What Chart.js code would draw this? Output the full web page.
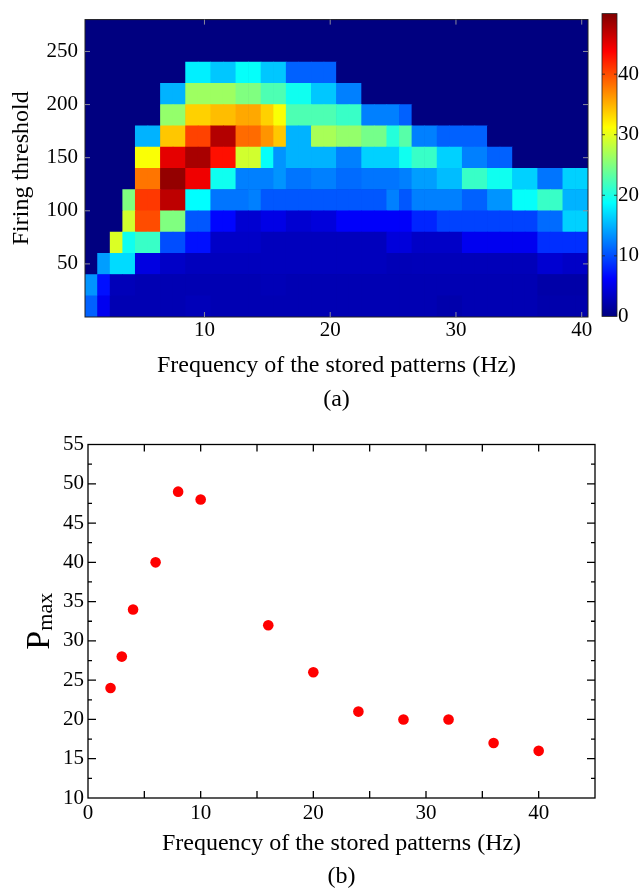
<!DOCTYPE html>
<html>
<head>
<meta charset="utf-8">
<script src="https://cdn.jsdelivr.net/npm/chart.js@4.4.0/dist/chart.umd.min.js"></script>
<style>
  html, body { margin: 0; padding: 0; background: #fff; overflow: hidden; }
  body { width: 640px; height: 891px; position: relative; }
  canvas { position: absolute; }
  #heat { left: 0; top: 0; }
  #cbar { left: 590px; top: 0; }
  #scat { left: 0; top: 420px; }
</style>
</head>
<body>
<canvas id="heat" width="600" height="420"></canvas>
<canvas id="cbar" width="50" height="330"></canvas>
<canvas id="scat" width="640" height="480"></canvas>
<script>
Chart.defaults.font.family = "'Liberation Serif', 'Times New Roman', serif";
Chart.defaults.color = '#000';
Chart.defaults.animation = false;

// (a) heat map: stored pattern frequency (Hz) x firing threshold
const freqs = [1, 2, 3, 4, 5, 6, 7, 8, 9, 10, 11, 12, 13, 14, 15, 16, 17, 18, 19, 20,
               21, 22, 23, 24, 25, 26, 27, 28, 29, 30, 31, 32, 33, 34, 35, 36, 37, 38, 39, 40];
const thresholdEdges = [0, 20, 40, 60, 80, 100, 120, 140, 160, 180, 200, 220, 240, 260, 280];
// one row per threshold bin, bottom row first
const pGrid = [
  [11, 5.5, 2.5, 2.5, 2.5, 2.5, 2.5, 2.5, 2.8, 2.8, 2.5, 2.5, 2.5, 2.5, 2.5, 2.5, 2.5, 2.5, 2.5, 2.5,
   2.5, 2.5, 2.5, 2.5, 2.5, 2.5, 2.5, 2.5, 2.2, 2.2, 2.5, 2.5, 2.5, 2.5, 2.5, 2.5, 2.2, 2.2, 2.2, 2.2],
  [13.5, 7, 2.8, 2.8, 2.5, 2.5, 2.5, 2.5, 2.5, 2.5, 2.5, 2.5, 2.5, 2.5, 2.7, 2.7, 2.5, 2.5, 2.5, 2.5,
   2.5, 2.5, 2.5, 2.5, 2.5, 2.5, 2.5, 2.5, 2.5, 2.5, 2.5, 2.5, 2.5, 2.5, 2.5, 2.5, 2, 2, 2, 2],
  [0, 14, 17, 17, 4.8, 4.8, 3.5, 3.5, 3, 3, 3, 3, 3, 3, 3, 3, 3, 3, 3, 3,
   3, 3, 3, 3, 2.7, 2.7, 2.8, 2.8, 2.8, 2.8, 2.8, 2.8, 2.8, 2.8, 2.8, 2.8, 4, 4, 3.5, 3.5],
  [0, 0, 29.5, 19.5, 21.5, 21.5, 10, 10, 7, 7, 3.5, 3.5, 3.5, 3.5, 3, 3, 3, 3, 3, 3,
   3, 3, 3, 3, 4.5, 4.5, 3.5, 3.5, 3.5, 3.5, 5.5, 5.5, 5.5, 5.5, 5.5, 5.5, 8.5, 8.5, 8.5, 8.5],
  [0, 0, 0, 29, 40, 40, 25, 25, 10.5, 10.5, 6.5, 6.5, 4, 4, 5, 5, 4, 4, 4.5, 4.5,
   6, 6, 6, 6, 6, 6, 8, 8, 9.5, 9.5, 9.5, 9.5, 9.5, 9.5, 9.5, 9.5, 11.5, 11.5, 16.5, 16.5],
  [0, 0, 0, 25, 41, 41, 47, 47, 18.75, 18.75, 12, 12, 12, 12.5, 10.5, 10.5, 10.5, 10.5, 10.5, 10.5,
   10.5, 10.5, 10.5, 10.5, 12.5, 10.5, 12.5, 12.5, 12.5, 12.5, 11, 11, 13.5, 13.5, 19, 19, 21.5, 21.5, 15, 15],
  [0, 0, 0, 0, 38, 38, 49, 49, 44.5, 44.5, 19.5, 19.5, 12.5, 12.5, 12.5, 13.5, 12, 12, 12.5, 12.5,
   11.5, 11.5, 12, 12, 12, 12.5, 14, 14, 15.5, 15.5, 21.5, 21.5, 19.5, 19.5, 16.5, 16.5, 12, 12, 16.5, 16.5],
  [0, 0, 0, 0, 31, 31, 45, 45, 48, 48, 43, 43, 29, 29, 19, 13.5, 15, 15, 15, 15,
   12.5, 12.5, 16.5, 16.5, 16.5, 19.5, 21.5, 21.5, 16.5, 16.5, 12.5, 12.5, 11, 11, 0, 0, 0, 0, 0, 0],
  [0, 0, 0, 0, 15, 15, 34, 34, 40.5, 40.5, 47.5, 47.5, 38.5, 38.5, 36.5, 34, 15, 15, 27, 27,
   26, 26, 24.5, 24.5, 20.5, 23, 12.5, 12.5, 11, 11, 11, 11, 0, 0, 0, 0, 0, 0, 0, 0],
  [0, 0, 0, 0, 0, 0, 26, 26, 33.5, 33.5, 34.5, 34.5, 35.5, 35.5, 33.5, 31, 22.5, 22.5, 22.5, 22.5,
   21.5, 21.5, 12.5, 12.5, 12.5, 11, 0, 0, 0, 0, 0, 0, 0, 0, 0, 0, 0, 0, 0, 0],
  [0, 0, 0, 0, 0, 0, 15, 15, 26.5, 26.5, 26.5, 26.5, 25, 25, 22.5, 22.5, 19.5, 19.5, 16, 16,
   12.5, 12.5, 0, 0, 0, 0, 0, 0, 0, 0, 0, 0, 0, 0, 0, 0, 0, 0, 0, 0],
  [0, 0, 0, 0, 0, 0, 0, 0, 18, 18, 16, 16, 19, 19, 16, 16, 11, 11, 11, 11,
   0, 0, 0, 0, 0, 0, 0, 0, 0, 0, 0, 0, 0, 0, 0, 0, 0, 0, 0, 0],
  [0, 0, 0, 0, 0, 0, 0, 0, 0, 0, 0, 0, 0, 0, 0, 0, 0, 0, 0, 0,
   0, 0, 0, 0, 0, 0, 0, 0, 0, 0, 0, 0, 0, 0, 0, 0, 0, 0, 0, 0],
  [0, 0, 0, 0, 0, 0, 0, 0, 0, 0, 0, 0, 0, 0, 0, 0, 0, 0, 0, 0,
   0, 0, 0, 0, 0, 0, 0, 0, 0, 0, 0, 0, 0, 0, 0, 0, 0, 0, 0, 0]
];
const cMax = 50;
const heatXTicks = [10, 20, 30, 40];
const heatYTicks = [50, 100, 150, 200, 250];
const cbarTicks = [0, 10, 20, 30, 40];

// (b) maximum of P per frequency
const pmaxFreq = [2, 3, 4, 6, 8, 10, 16, 20, 24, 28, 32, 36, 40];
const pmaxValue = [24, 28, 34, 40, 49, 48, 32, 26, 21, 20, 20, 17, 16];
const pmaxXTicks = [0, 10, 20, 30, 40];
const pmaxYTicks = [10, 15, 20, 25, 30, 35, 40, 45, 50, 55];

function clamp01(v) { return Math.max(0, Math.min(1, v)); }
function jet(v) {
  const t = clamp01(v / cMax);
  const r = clamp01(1.5 - Math.abs(4 * t - 3));
  const g = clamp01(1.5 - Math.abs(4 * t - 2));
  const b = clamp01(1.5 - Math.abs(4 * t - 1));
  return 'rgb(' + Math.round(r * 255) + ',' + Math.round(g * 255) + ',' + Math.round(b * 255) + ')';
}
function jetGradient(c) {
  const a = c.chart.chartArea;
  if (!a) return jet(0);
  const g = c.chart.ctx.createLinearGradient(0, a.bottom, 0, a.top);
  for (let i = 0; i <= 16; i++) g.addColorStop(i / 16, jet(cMax * i / 16));
  return g;
}
function fixedTicks(list) {
  return s => { s.ticks = list.map(v => ({ value: v })); };
}

// box round the plot area plus inward tick marks
const framePlugin = {
  id: 'frame',
  beforeDatasetsDraw(chart, args, o) {
    if (!o.fill) return;
    const { ctx, chartArea: a } = chart;
    ctx.save();
    ctx.fillStyle = o.fill;
    ctx.fillRect(a.left, a.top, a.right - a.left, a.bottom - a.top);
    ctx.restore();
  },
  afterDatasetsDraw(chart, args, o) {
    const { ctx, chartArea: a, scales } = chart;
    ctx.save();
    ctx.strokeStyle = o.boxColor || o.color;
    ctx.lineWidth = o.width;
    ctx.strokeRect(a.left, a.top, a.right - a.left, a.bottom - a.top);
    ctx.strokeStyle = o.color;
    ctx.beginPath();
    (o.marks || []).forEach(m => {
      const s = scales[m.axis];
      const first = Math.ceil((s.min - 1e-9) / m.step) * m.step;
      for (let v = first; v <= s.max + 1e-9; v += m.step) {
        const p = s.getPixelForValue(v);
        if (s.isHorizontal()) {
          if (p <= a.left + 1 || p >= a.right - 1) continue;
          ctx.moveTo(p, a.bottom); ctx.lineTo(p, a.bottom - m.len);
          ctx.moveTo(p, a.top); ctx.lineTo(p, a.top + m.len);
        } else {
          if (p <= a.top + 1 || p >= a.bottom - 1) continue;
          ctx.moveTo(a.left, p); ctx.lineTo(a.left + m.len, p);
          ctx.moveTo(a.right, p); ctx.lineTo(a.right - m.len, p);
        }
      }
    });
    ctx.stroke();
    ctx.restore();
  }
};

// rotated "P" with subscript "max"
const pmaxTitle = {
  id: 'pmaxTitle',
  afterDraw(chart, args, o) {
    const { ctx, chartArea: a } = chart;
    const fam = "'Liberation Serif', serif";
    ctx.save();
    ctx.fillStyle = '#000';
    ctx.font = o.size + 'px ' + fam;
    const w1 = ctx.measureText(o.text).width;
    ctx.font = o.subSize + 'px ' + fam;
    const w2 = ctx.measureText(o.sub).width;
    ctx.translate(o.x, (a.top + a.bottom) / 2 + (w1 + w2) / 2);
    ctx.rotate(-Math.PI / 2);
    ctx.textBaseline = 'alphabetic';
    ctx.font = o.size + 'px ' + fam;
    ctx.fillText(o.text, 0, 0);
    ctx.font = o.subSize + 'px ' + fam;
    ctx.fillText(o.sub, w1, o.subShift);
    ctx.restore();
  }
};

const noGrid = { display: false, drawTicks: false };

const heatSets = pGrid.map((row, r) => ({
  data: row.map((v, k) => ({ x: freqs[k], y: [thresholdEdges[r], thresholdEdges[r + 1]] })),
  backgroundColor: row.map(jet),
  borderWidth: 0,
  grouped: false,
  barPercentage: 1,
  categoryPercentage: 1
}));

new Chart(document.getElementById('heat'), {
  type: 'bar',
  data: { datasets: heatSets },
  options: {
    responsive: false,
    layout: { padding: { top: 8, right: 12, bottom: 0, left: 0 } },
    plugins: {
      legend: { display: false },
      tooltip: { enabled: false },
      frame: {
        fill: jet(0), color: '#8a8a9a', boxColor: '#222', width: 1,
        marks: [{ axis: 'x', step: 10, len: 5 }, { axis: 'y', step: 50, len: 5 }]
      }
    },
    scales: {
      x: {
        type: 'linear', min: 0.5, max: 40.5, offset: false,
        grid: noGrid, border: { display: false },
        afterBuildTicks: fixedTicks(heatXTicks),
        ticks: { padding: 1, maxRotation: 0, autoSkip: false, font: { size: 21 } },
        title: {
          display: true,
          text: ['Frequency of the stored patterns (Hz)', '(a)'],
          font: { size: 24, lineHeight: 34 / 24 },
          padding: { top: 0, bottom: 3 }
        },
        afterFit: s => { s.height = 103; }
      },
      y: {
        min: 0, max: 280,
        grid: noGrid, border: { display: false },
        afterBuildTicks: fixedTicks(heatYTicks),
        ticks: { padding: 7, autoSkip: false, font: { size: 21 } },
        title: { display: true, text: 'Firing threshold', font: { size: 24 }, padding: { top: 7, bottom: 0 } },
        afterFit: s => { s.width = 85; }
      }
    }
  },
  plugins: [framePlugin]
});

new Chart(document.getElementById('cbar'), {
  type: 'bar',
  data: {
    labels: [''],
    datasets: [{
      data: [[0, cMax]],
      backgroundColor: jetGradient,
      borderWidth: 0,
      barPercentage: 1,
      categoryPercentage: 1
    }]
  },
  options: {
    responsive: false,
    layout: { padding: { top: 8, right: 0, bottom: 13, left: 12 } },
    plugins: {
      legend: { display: false },
      tooltip: { enabled: false },
      frame: { color: '#222', width: 0.8, marks: [{ axis: 'y', step: 10, len: 3 }] }
    },
    scales: {
      x: { display: false },
      y: {
        position: 'right', min: 0, max: cMax,
        grid: noGrid, border: { display: false },
        afterBuildTicks: fixedTicks(cbarTicks),
        ticks: { padding: 1, autoSkip: false, font: { size: 21 } },
        afterFit: s => { s.width = 23; }
      }
    }
  },
  plugins: [framePlugin]
});

new Chart(document.getElementById('scat'), {
  type: 'scatter',
  data: {
    datasets: [{
      data: pmaxFreq.map((f, i) => ({ x: f, y: pmaxValue[i] })),
      backgroundColor: '#ff0000',
      borderWidth: 0,
      pointRadius: 5.3
    }]
  },
  options: {
    responsive: false,
    layout: { padding: { top: 24.5, right: 45, bottom: 0, left: 0 } },
    plugins: {
      legend: { display: false },
      tooltip: { enabled: false },
      frame: {
        color: '#000', width: 1.3,
        marks: [{ axis: 'x', step: 5, len: 7 }, { axis: 'y', step: 5, len: 8 }, { axis: 'y', step: 2.5, len: 4 }]
      },
      pmaxTitle: { text: 'P', sub: 'max', size: 34, subSize: 22, subShift: 3, x: 49 }
    },
    scales: {
      x: {
        type: 'linear', min: 0, max: 45,
        grid: noGrid, border: { display: false },
        afterBuildTicks: fixedTicks(pmaxXTicks),
        ticks: { padding: 3, maxRotation: 0, autoSkip: false, font: { size: 21 } },
        title: {
          display: true,
          text: ['Frequency of the stored patterns (Hz)', '(b)'],
          font: { size: 24, lineHeight: 33 / 24 },
          padding: { top: 0, bottom: 6.5 }
        },
        afterFit: s => { s.height = 102; }
      },
      y: {
        min: 10, max: 55,
        grid: noGrid, border: { display: false },
        afterBuildTicks: fixedTicks(pmaxYTicks),
        ticks: { padding: 4, autoSkip: false, font: { size: 21 } },
        afterFit: s => { s.width = 88; }
      }
    }
  },
  plugins: [framePlugin, pmaxTitle]
});
</script>
</body>
</html>
